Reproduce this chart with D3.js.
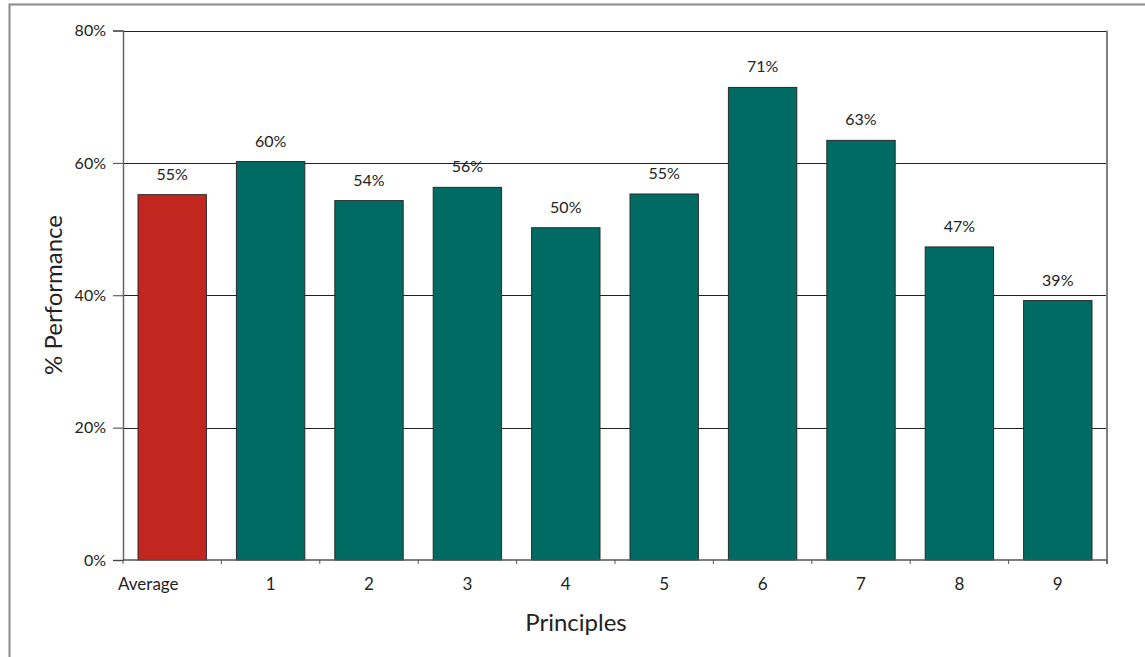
<!DOCTYPE html>
<html><head><meta charset="utf-8">
<script src="https://cdn.jsdelivr.net/npm/d3@7"></script>
<style>html,body{margin:0;padding:0;background:#fff;}svg{display:block;}</style>
</head><body>
<svg id="chart" width="1145" height="657"></svg>
<script>
const categories = ["Average","1","2","3","4","5","6","7","8","9"];
const values = [55.2, 60.2, 54.3, 56.3, 50.2, 55.3, 71.4, 63.4, 47.3, 39.2];
const labels = ["55%","60%","54%","56%","50%","55%","71%","63%","47%","39%"];
const yTicks = [0, 20, 40, 60, 80];

const FONT = "Lato, 'Open Sans', sans-serif";
const svg = d3.select("#chart");
const m = {left:123, top:30.5, right:1107, bottom:560};

// outer frame
svg.append("path").attr("d","M9.5,657 V4.5 H1145").attr("fill","none").attr("stroke","#8a8a8a").attr("stroke-width",2);

const x = d3.scaleBand().domain(categories).range([m.left, m.right]).paddingInner(0.305).paddingOuter(0.1525);
const y = d3.scaleLinear().domain([0, 80]).range([m.bottom, m.top]);

// gridlines
svg.append("g").selectAll("line").data(yTicks.filter(d=>d>0)).join("line")
  .attr("x1", m.left).attr("x2", m.right)
  .attr("y1", d=>Math.round(y(d))+0.5).attr("y2", d=>Math.round(y(d))+0.5)
  .attr("stroke","#222").attr("stroke-width",1);

// right border
svg.append("line").attr("x1",m.right).attr("x2",m.right).attr("y1",m.top).attr("y2",m.bottom+4)
  .attr("stroke","#808080").attr("stroke-width",2);

// bars
svg.append("g").selectAll("rect").data(values).join("rect")
  .attr("x",(d,i)=>x(categories[i])).attr("width",x.bandwidth())
  .attr("y",d=>y(d)).attr("height",d=>m.bottom-y(d))
  .attr("fill",(d,i)=>i===0?"#C1261F":"#006B63")
  .attr("stroke","#2a2a2a").attr("stroke-width",1);

// value labels
svg.append("g").selectAll("text").data(values).join("text")
  .attr("x",(d,i)=>x(categories[i])+x.bandwidth()/2).attr("y",d=>y(d)-15)
  .attr("text-anchor","middle").attr("font-family",FONT).attr("font-size",16).attr("fill","#222")
  .text((d,i)=>labels[i]);

// y axis
const yAxis = d3.axisLeft(y).tickValues(yTicks).tickFormat(d=>d+"%").tickSize(10).tickPadding(7);
const gy = svg.append("g").attr("transform",`translate(${m.left},0)`).call(yAxis);
gy.select(".domain").attr("stroke","#666").attr("stroke-width",1.5);
gy.selectAll(".tick line").attr("stroke","#444");
gy.selectAll("text").attr("font-family",FONT).attr("font-size",16).attr("fill","#222");

// x axis: ticks at band boundaries
const boundaries = categories.map((c,i)=>m.left + i*x.step()).concat([m.right]);
svg.append("line").attr("x1",m.left).attr("x2",m.right).attr("y1",m.bottom).attr("y2",m.bottom).attr("stroke","#555").attr("stroke-width",1.5);
svg.append("g").selectAll("line").data(boundaries).join("line")
  .attr("x1",d=>d).attr("x2",d=>d).attr("y1",m.bottom).attr("y2",m.bottom+4)
  .attr("stroke","#555").attr("stroke-width",1);
svg.append("g").selectAll("text").data(categories).join("text")
  .attr("x",(d,i)=>i===0 ? x(d)-20 : x(d)+x.bandwidth()/2).attr("y",590)
  .attr("text-anchor",(d,i)=>i===0?"start":"middle").attr("font-family",FONT).attr("font-size",17).attr("fill","#222")
  .text(d=>d);

// axis titles
svg.append("text").attr("x",576).attr("y",631).attr("text-anchor","middle")
  .attr("font-family",FONT).attr("font-size",24).attr("fill","#222").text("Principles");
svg.append("text").attr("transform","translate(62,295) rotate(-90)").attr("text-anchor","middle")
  .attr("font-family",FONT).attr("font-size",24).attr("fill","#222").text("% Performance");
</script>
</body></html>
